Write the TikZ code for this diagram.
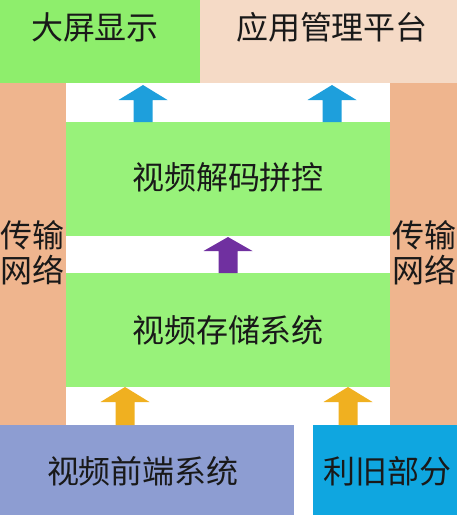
\documentclass[tikz,border=0pt]{standalone}
\usepackage{fontspec}
\setmainfont{Noto Sans CJK SC}
\definecolor{gA}{HTML}{8EEE6C}
\definecolor{gB}{HTML}{98F27A}
\definecolor{peach}{HTML}{F5DAC6}
\definecolor{orng}{HTML}{EFB58E}
\definecolor{lav}{HTML}{8D9DD2}
\definecolor{cyanb}{HTML}{0FA6E0}
\definecolor{arrB}{HTML}{1E9FDC}
\definecolor{arrP}{HTML}{7030A0}
\definecolor{arrY}{HTML}{F0B020}
\begin{document}
\begin{tikzpicture}[x=1pt,y=-1pt,
  area/.style={draw=none,inner sep=0pt,outer sep=0pt,anchor=north west},
  lbl/.style={inner sep=0pt,font=\fontsize{32}{37}\selectfont,text=black!90}]
\useasboundingbox (0,0) rectangle (457,515);
% areas
\node[area,fill=gA,minimum width=200pt,minimum height=83pt] (disp) at (0,0) {};
\node[area,fill=peach,minimum width=257pt,minimum height=83pt] (mgmt) at (200,0) {};
\node[area,fill=orng,minimum width=66pt,minimum height=342pt] (netL) at (0,83) {};
\node[area,fill=orng,minimum width=67pt,minimum height=342pt] (netR) at (390,83) {};
\node[area,fill=gB,minimum width=324pt,minimum height=114pt] (dec) at (66,122) {};
\node[area,fill=gB,minimum width=324pt,minimum height=114pt] (sto) at (66,273) {};
\node[area,fill=lav,minimum width=294pt,minimum height=90pt] (front) at (0,425) {};
\node[area,fill=cyanb,minimum width=144pt,minimum height=90pt] (old) at (313,425) {};
% labels
\node[lbl] (tdisp) at (95,27) {大屏显示};
\node[lbl] (tmgmt) at (332,27) {应用管理平台};
\node[lbl] (tdec) at (228,177) {视频解码拼控};
\node[lbl] (tsto) at (228,330) {视频存储系统};
\node[lbl] (tfront) at (143,471) {视频前端系统};
\node[lbl] (told) at (387,471) {利旧部分};
\node[lbl,align=center] (tnetL) at (33,253) {传输\\[-2pt]网络};
\node[lbl,align=center] (tnetR) at (424,253) {传输\\[-2pt]网络};
% block arrows
\newcommand{\uparr}[5]{% x, top, headbase, bottom, color
  \fill[#5] (#1,#2) -- (#1+24.5,#3) -- (#1+9.5,#3) -- (#1+9.5,#4) -- (#1-9.5,#4) -- (#1-9.5,#3) -- (#1-24.5,#3) -- cycle;}
\uparr{143}{85}{100}{122}{arrB}
\uparr{332}{85}{100}{122}{arrB}
\uparr{228}{237}{251}{273}{arrP}
\uparr{125}{387}{402}{425}{arrY}
\uparr{348}{387}{402}{425}{arrY}
\end{tikzpicture}
\end{document}
